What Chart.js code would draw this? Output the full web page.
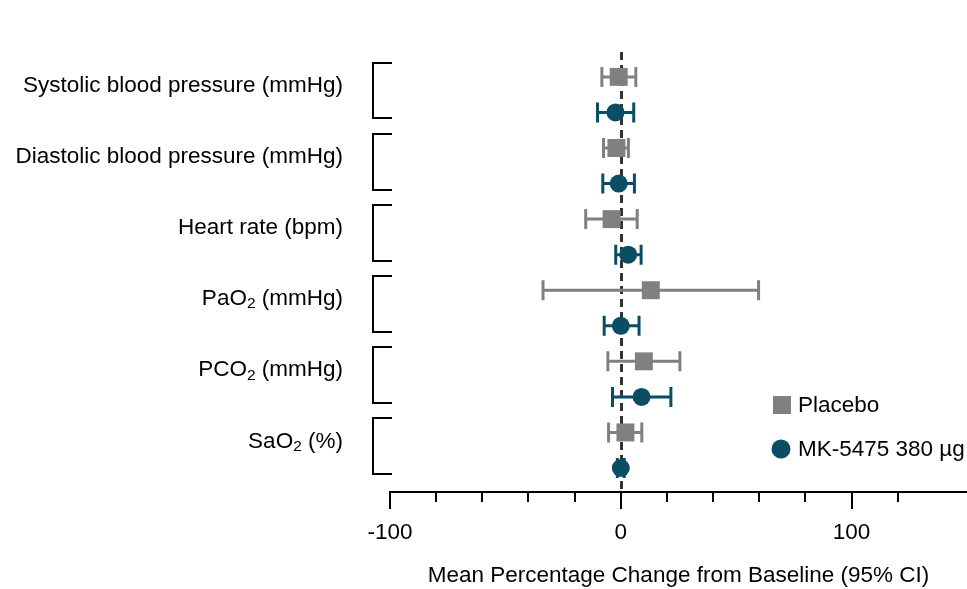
<!DOCTYPE html>
<html>
<head>
<meta charset="utf-8">
<script src="https://cdn.jsdelivr.net/npm/chart.js@4.4.1/dist/chart.umd.min.js"></script>
<style>
  html, body { margin: 0; padding: 0; background: #fff; overflow: hidden; }
  canvas { display: block; }
</style>
</head>
<body>
<canvas id="forest" width="967" height="589"></canvas>
<script>
// values (mean % change and 95% CI)
const categories = [
    'Systolic blood pressure (mmHg)',
    'Diastolic blood pressure (mmHg)',
    'Heart rate (bpm)',
    'PaO₂ (mmHg)',
    'PCO₂ (mmHg)',
    'SaO₂ (%)'
];
const seriesNames = ['Placebo', 'MK-5475 380 µg'];

const placeboMean = [-0.9, -1.9, -4.0, 13.0, 10.0, 2.0];
const placeboLow  = [-8.2, -7.5, -15.2, -33.7, -5.6, -5.3];
const placeboHigh = [6.5, 3.3, 7.1, 59.7, 25.6, 9.1];

const mkMean = [-2.3, -0.9, 3.2, 0.0, 9.0, 0.0];
const mkLow  = [-10.1, -7.8, -2.2, -7.2, -3.6, -1.5];
const mkHigh = [5.6, 5.9, 8.8, 7.9, 21.7, 1.5];

const xTickLabels = [-100, 0, 100];

const FONT = '"Liberation Sans", Arial, sans-serif';
const FS = 22.5;
const PLACEBO_COLOR = '#808080';
const MK_COLOR = '#0b4d62';

// each category takes two rows: placebo, then MK
const placeboPoints = placeboMean.map((v, i) => ({ x: v, y: i * 2, low: placeboLow[i], high: placeboHigh[i] }));
const mkPoints = mkMean.map((v, i) => ({ x: v, y: i * 2 + 1, low: mkLow[i], high: mkHigh[i] }));

// draw label with "₂" as a real lowered subscript, right aligned
function drawLabel(ctx, text, right, y) {
    const big = FS + 'px ' + FONT, small = '15.5px ' + FONT;
    const segs = [];
    text.split('₂').forEach((p, i) => {
        if (i > 0) segs.push({ t: '2', f: small, dy: 5 });
        if (p) segs.push({ t: p, f: big, dy: 0 });
    });
    let total = 0;
    segs.forEach(s => { ctx.font = s.f; s.w = ctx.measureText(s.t).width; total += s.w; });
    let x = right - total;
    ctx.textAlign = 'left';
    ctx.textBaseline = 'middle';
    segs.forEach(s => { ctx.font = s.f; ctx.fillText(s.t, x, y + s.dy); x += s.w; });
}

const forestPlugin = {
    id: 'forest',
    beforeDatasetDraw(chart, args) {
        const ctx = chart.ctx;
        const xs = chart.scales.x;
        const area = chart.chartArea;
        if (args.index === 1) {
            // zero reference line (sits over the grey squares, under the teal dots)
            const x0 = Math.round(xs.getPixelForValue(0)) + 0.5;
            ctx.save();
            ctx.strokeStyle = '#333';
            ctx.lineWidth = 3;
            ctx.setLineDash([8, 5]);
            ctx.beginPath();
            ctx.moveTo(x0, area.top);
            ctx.lineTo(x0, area.bottom);
            ctx.stroke();
            ctx.restore();
        }
        // error bars
        const ds = chart.data.datasets[args.index];
        ctx.save();
        ctx.strokeStyle = ds.backgroundColor;
        ctx.lineWidth = 3;
        args.meta.data.forEach((pt, i) => {
            const d = ds.data[i];
            const x1 = xs.getPixelForValue(d.low);
            const x2 = xs.getPixelForValue(d.high);
            const y = pt.y;
            ctx.beginPath();
            ctx.moveTo(x1, y); ctx.lineTo(x2, y);
            ctx.moveTo(x1, y - 10); ctx.lineTo(x1, y + 10);
            ctx.moveTo(x2, y - 10); ctx.lineTo(x2, y + 10);
            ctx.stroke();
        });
        ctx.restore();
    },
    afterDraw(chart) {
        const ctx = chart.ctx;
        const xs = chart.scales.x;
        const ys = chart.scales.y;
        const area = chart.chartArea;
        ctx.save();
        ctx.strokeStyle = '#000';
        ctx.fillStyle = '#000';
        ctx.lineWidth = 2;

        // tick marks, long ones where there is a label
        xs.ticks.forEach(t => {
            const x = Math.round(xs.getPixelForValue(t.value));
            const len = xTickLabels.includes(t.value) ? 17 : 10;
            ctx.beginPath();
            ctx.moveTo(x, area.bottom);
            ctx.lineTo(x, area.bottom + len);
            ctx.stroke();
        });

        // brackets and category labels
        const bl = area.left - 17;
        categories.forEach((c, g) => {
            const yTop = Math.round(ys.getPixelForValue(g * 2 - 0.4));
            const yBot = Math.round(ys.getPixelForValue(g * 2 + 1 + 0.17));
            ctx.beginPath();
            ctx.moveTo(bl + 19, yTop);
            ctx.lineTo(bl, yTop);
            ctx.lineTo(bl, yBot);
            ctx.lineTo(bl + 19, yBot);
            ctx.stroke();
            drawLabel(ctx, c, area.left - 47, ys.getPixelForValue(g * 2 + 0.25));
        });

        // legend
        const lx = 782;
        ctx.font = FS + 'px ' + FONT;
        ctx.textAlign = 'left';
        ctx.textBaseline = 'middle';
        ctx.fillStyle = PLACEBO_COLOR;
        ctx.fillRect(lx - 9, 396, 18, 18);
        ctx.fillStyle = '#000';
        ctx.fillText(seriesNames[0], 798, 406);
        ctx.fillStyle = MK_COLOR;
        ctx.beginPath();
        ctx.arc(lx - 1, 449, 9.5, 0, Math.PI * 2);
        ctx.fill();
        ctx.fillStyle = '#000';
        ctx.fillText(seriesNames[1], 798, 450);
        ctx.restore();
    }
};

new Chart(document.getElementById('forest'), {
    type: 'scatter',
    data: {
        datasets: [
            {
                label: seriesNames[0],
                data: placeboPoints,
                pointStyle: 'rect',
                pointRadius: 12.7,
                pointHoverRadius: 12.7,
                backgroundColor: PLACEBO_COLOR,
                borderColor: PLACEBO_COLOR,
                borderWidth: 0
            },
            {
                label: seriesNames[1],
                data: mkPoints,
                pointStyle: 'circle',
                pointRadius: 9,
                pointHoverRadius: 9,
                backgroundColor: MK_COLOR,
                borderColor: MK_COLOR,
                borderWidth: 0
            }
        ]
    },
    options: {
        responsive: false,
        animation: false,
        layout: { autoPadding: false, padding: { left: 390, top: 52, right: 0, bottom: 0 } },
        plugins: {
            legend: { display: false },
            tooltip: { enabled: false }
        },
        scales: {
            x: {
                type: 'linear',
                min: -100,
                max: 150,
                afterBuildTicks: s => { s.ticks = s.ticks.filter(t => t.value % 20 === 0); },
                afterFit: s => { s.height = 97; s.paddingLeft = 0; s.paddingRight = 0; },
                border: { display: true, color: '#000', width: 2 },
                grid: { drawOnChartArea: false, drawTicks: false },
                ticks: {
                    stepSize: 20,
                    autoSkip: false,
                    maxRotation: 0,
                    padding: 27,
                    color: '#000',
                    font: { family: FONT, size: FS },
                    callback: v => xTickLabels.includes(v) ? String(v) : ''
                },
                title: {
                    display: true,
                    text: 'Mean Percentage Change from Baseline (95% CI)',
                    color: '#000',
                    font: { family: FONT, size: FS },
                    padding: { top: 0, bottom: 0 }
                }
            },
            y: {
                type: 'linear',
                reverse: true,
                min: -0.7,
                max: 11.675,
                display: false
            }
        }
    },
    plugins: [forestPlugin]
});
</script>
</body>
</html>
